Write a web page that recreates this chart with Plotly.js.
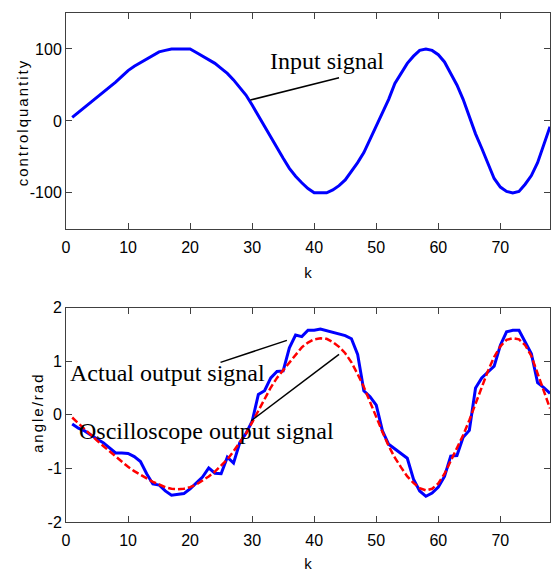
<!DOCTYPE html>
<html>
<head>
<meta charset="utf-8">
<script src="https://cdn.plot.ly/plotly-3.0.1.min.js"></script>
<style>
html,body{margin:0;padding:0;background:#fff;}
#chart{width:558px;height:572px;}
.annotation[data-index="3"] text,.annotation[data-index="4"] text{letter-spacing:2px;}
</style>
</head>
<body>
<div id="chart"></div>
<script>
// k index 1..78
const k = [];
for (let i = 1; i <= 78; i++) k.push(i);

const inputSignal = [5,12,18,26,33,40,47,54,62,70,76,81,87,92,96,98,100,100,100,100,
  95,90,86,80,73,66,57,47,36,22,7,-9,-23,-37,-52,-66,-77,-86,-94,-100,
  -100,-100,-96,-90,-82,-70,-58,-44,-26,-8,12,30,52,66,80,90,98,100,98,92,
  82,66,50,30,6,-18,-38,-58,-80,-92,-98,-100,-98,-88,-76,-58,-34,-8];

const actualOutput = [-0.17,-0.25,-0.30,-0.38,-0.45,-0.52,-0.62,-0.71,-0.71,-0.72,
  -0.78,-0.87,-1.10,-1.29,-1.31,-1.42,-1.50,-1.48,-1.47,-1.38,
  -1.27,-1.16,-0.99,-1.09,-1.10,-0.79,-0.90,-0.52,-0.35,-0.12,
  0.38,0.45,0.69,0.81,0.82,1.25,1.49,1.46,1.58,1.58,
  1.60,1.57,1.54,1.51,1.48,1.42,1.13,0.45,0.34,0.18,
  -0.30,-0.55,-0.64,-0.73,-0.81,-1.20,-1.42,-1.52,-1.46,-1.35,
  -1.15,-0.77,-0.76,-0.42,-0.29,0.50,0.69,0.80,0.91,1.30,
  1.55,1.58,1.58,1.36,1.14,0.60,0.51,0.40];

const scopeOutput = [-0.05,-0.16,-0.26,-0.37,-0.48,-0.58,-0.68,-0.78,-0.88,-0.97,
  -1.05,-1.12,-1.19,-1.25,-1.30,-1.35,-1.38,-1.39,-1.38,-1.35,
  -1.30,-1.23,-1.15,-1.06,-0.95,-0.83,-0.68,-0.52,-0.35,-0.14,
  0.08,0.30,0.51,0.69,0.83,0.98,1.12,1.26,1.35,1.41,
  1.43,1.42,1.36,1.27,1.15,0.98,0.76,0.52,0.24,-0.05,
  -0.32,-0.58,-0.80,-0.98,-1.15,-1.27,-1.37,-1.41,-1.38,-1.28,
  -1.10,-0.86,-0.62,-0.38,-0.10,0.22,0.52,0.82,1.08,1.28,
  1.40,1.43,1.41,1.30,1.10,0.78,0.46,0.12];

const xTicks = [0,10,20,30,40,50,60,70];
const xTickText = ['0','10','20','30','40','50','60','70'];
const yTopTicks = [-100,0,100];
const yTopTickText = ['-100','0','100'];
const yBotTicks = [-2,-1,0,1,2];
const yBotTickText = ['-2','-1','0','1','2'];

const labels = [
  {text:'Input signal', x:32.5, y:83, xref:'x', yref:'y'},
  {text:'Actual output signal', x:0.25, y:0.78, xref:'x2', yref:'y2'},
  {text:'Oscilloscope output signal', x:1.7, y:-0.31, xref:'x2', yref:'y2'}
];
const yTitles = [
  {text:'controlquantity', x:-0.089, y:0.785},
  {text:'angle/rad', x:-0.059, y:0.215}
];
// leader lines [x0,y0,x1,y1, axis]
const leaderLines = [
  [29.7,29,44.0,60,'1'],
  [24.9,0.98,35.6,1.39,'2'],
  [29.85,-0.11,44.0,1.13,'2']
];

const tickFont = {family:'Liberation Sans, Arial, sans-serif', size:16, color:'#000'};
const titleFont = {family:'Liberation Sans, Arial, sans-serif', size:15, color:'#000'};
const serif = {family:'Liberation Serif, Times New Roman, serif', size:24, color:'#000'};

function axisBase(extra){
  return Object.assign({
    showline:true, mirror:'allticks', linecolor:'#404040', linewidth:1,
    ticks:'inside', ticklen:6, tickcolor:'#404040', tickwidth:1,
    showgrid:false, zeroline:false, tickfont:tickFont, fixedrange:true
  }, extra);
}

const traces = [
  {x:k, y:inputSignal, type:'scatter', mode:'lines', xaxis:'x', yaxis:'y',
   line:{color:'#0000ff', width:3}},
  {x:k, y:actualOutput, type:'scatter', mode:'lines', xaxis:'x2', yaxis:'y2',
   line:{color:'#0000ff', width:3}},
  {x:k, y:scopeOutput, type:'scatter', mode:'lines', xaxis:'x2', yaxis:'y2',
   line:{color:'#ff0000', width:2.5, dash:'7px,3px'}}
];

const annotations = labels.map(l => ({text:l.text, x:l.x, y:l.y, xref:l.xref, yref:l.yref,
    xanchor:'left', yanchor:'middle', showarrow:false, font:serif}))
  .concat(yTitles.map(t => ({text:t.text, x:t.x, y:t.y, xref:'paper', yref:'paper',
    xanchor:'center', yanchor:'middle', textangle:-90, showarrow:false, font:titleFont})));

const layout = {
  width:558, height:572, showlegend:false,
  paper_bgcolor:'#fff', plot_bgcolor:'#fff',
  margin:{l:66, r:8, t:13, b:50},
  xaxis: axisBase({domain:[0,1], anchor:'y', range:[0,78], tickvals:xTicks, ticktext:xTickText,
    ticklabelstandoff:4, title:{text:'k', font:titleFont, standoff:12}}),
  yaxis: axisBase({domain:[0.576,1], anchor:'x', range:[-150,150], tickvals:yTopTicks, ticktext:yTopTickText}),
  xaxis2: axisBase({domain:[0,1], anchor:'y2', range:[0,78], tickvals:xTicks, ticktext:xTickText,
    ticklabelstandoff:4, title:{text:'k', font:titleFont, standoff:12}}),
  yaxis2: axisBase({domain:[0,0.421], anchor:'x2', range:[-2,2], tickvals:yBotTicks, ticktext:yBotTickText}),
  annotations: annotations,
  shapes: leaderLines.map(s => ({type:'line', x0:s[0], y0:s[1], x1:s[2], y1:s[3],
    xref: s[4]==='1'?'x':'x2', yref: s[4]==='1'?'y':'y2', line:{color:'#000', width:1.5}}))
};

Plotly.newPlot('chart', traces, layout, {staticPlot:true, displayModeBar:false});
</script>
</body>
</html>
